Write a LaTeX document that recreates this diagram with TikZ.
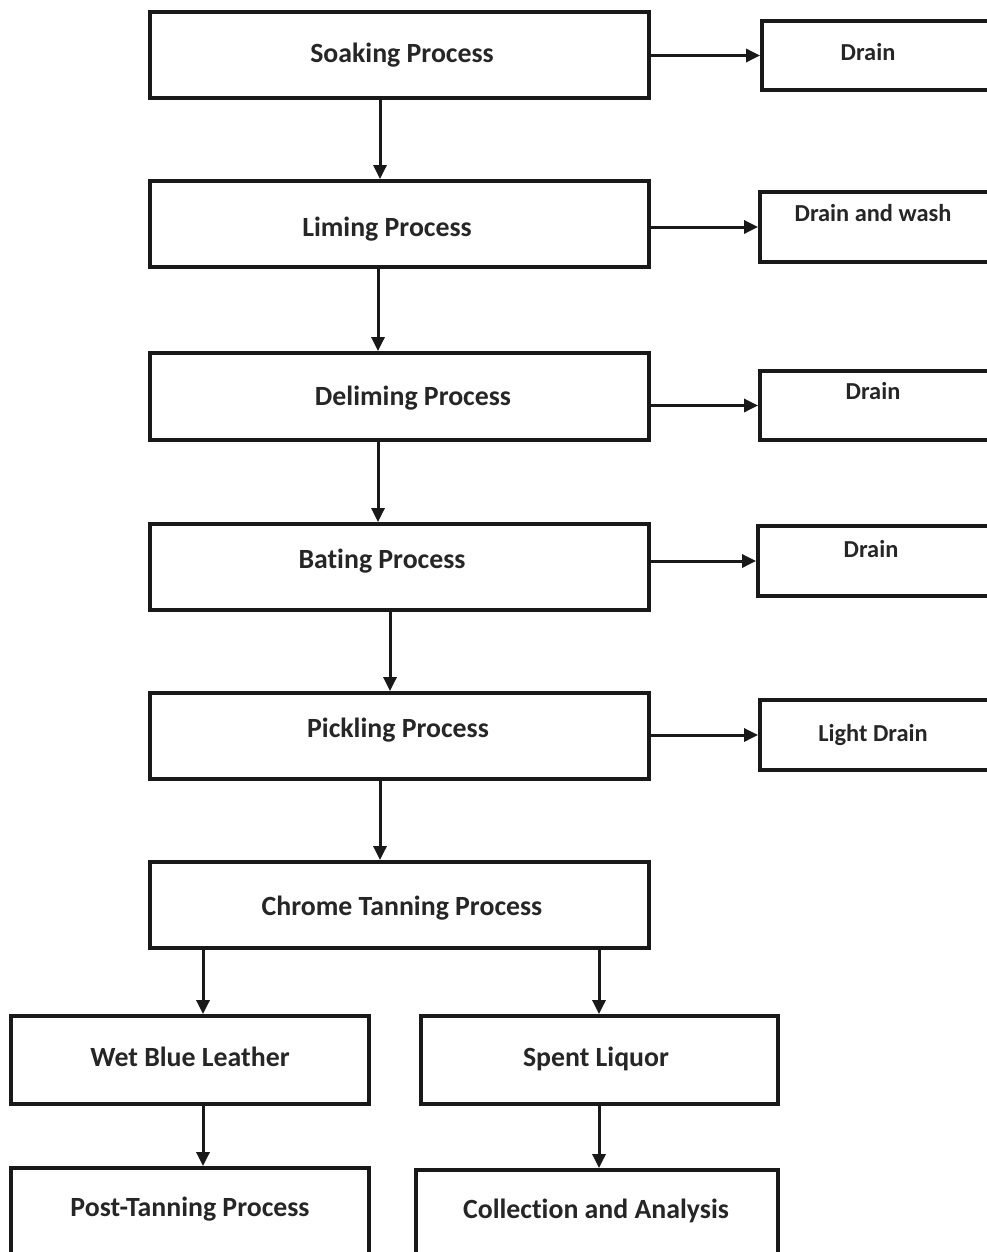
\documentclass[tikz,border=0pt]{standalone}
\usepackage{fontspec}
\setmainfont{Carlito}[Ligatures=NoCommon]
\usetikzlibrary{arrows.meta,calc}
\begin{document}
\begin{tikzpicture}[x=1pt,y=-1pt,
  box/.style={draw=black!90,line width=3.8pt,inner sep=0pt,fill=white},
  lbl/.style={font=\bfseries\fontsize{27.8}{32}\selectfont,text=black!85,inner sep=0pt,anchor=base,yshift=-10pt},
  slbl/.style={font=\bfseries\fontsize{24.4}{28}\selectfont,text=black!85,inner sep=0pt,anchor=base,yshift=-9pt},
  arr/.style={line width=3pt,draw=black!90,-{Triangle[length=14pt,width=13pt]}}]
\useasboundingbox (0,0) rectangle (987,1252);
\clip (0,0) rectangle (987,1252);
% main boxes
\node[box,minimum width=499pt,minimum height=86pt] (soak) at (399.5,55) {};
\node[box,minimum width=499pt,minimum height=86pt] (lim) at (399.5,224) {};
\node[box,minimum width=499pt,minimum height=87pt] (delim) at (399.5,396.5) {};
\node[box,minimum width=499pt,minimum height=86pt] (bate) at (399.5,567) {};
\node[box,minimum width=499pt,minimum height=86pt] (pick) at (399.5,736) {};
\node[box,minimum width=499pt,minimum height=86pt] (chrome) at (399.5,905) {};
% side boxes
\node[box,minimum width=240pt,minimum height=69pt] (d1) at (882,55.5) {};
\node[box,minimum width=240pt,minimum height=70pt] (d2) at (880,227) {};
\node[box,minimum width=240pt,minimum height=69pt] (d3) at (880,405.5) {};
\node[box,minimum width=240pt,minimum height=70pt] (d4) at (878,561) {};
\node[box,minimum width=240pt,minimum height=70pt] (d5) at (880,735) {};
% bottom boxes
\node[box,minimum width=358pt,minimum height=88pt] (wet) at (190,1060) {};
\node[box,minimum width=357pt,minimum height=88pt] (spent) at (599.5,1060) {};
\node[box,minimum width=358pt,minimum height=100pt] (post) at (190,1218) {};
\node[box,minimum width=362pt,minimum height=100pt] (coll) at (597,1220) {};
% labels
\node[lbl] (tsoak) at (402,53) {Soaking Process};
\node[lbl] (tlim) at (387,226) {Liming Process};
\node[lbl] (tdelim) at (413,395) {Deliming Process};
\node[lbl] (tbate) at (382,558) {Bating Process};
\node[lbl] (tpick) at (398,727) {Pickling Process};
\node[lbl] (tchrome) at (402,905) {Chrome Tanning Process};
\node[slbl] (td1) at (868,52) {Drain};
\node[slbl] (td2) at (873,213) {Drain and wash};
\node[slbl] (td3) at (873,390) {Drain};
\node[slbl] (td4) at (871,548) {Drain};
\node[slbl] (td5) at (873,732) {Light Drain};
\node[lbl] (twet) at (190,1056) {Wet Blue Leather};
\node[lbl] (tspent) at (596,1056) {Spent Liquor};
\node[lbl] (tpost) at (190,1206) {Post-Tanning Process};
\node[lbl] (tcoll) at (596,1208) {Collection and Analysis};
% right arrows
\draw[arr] (soak.east |- d1) -- (d1.west);
\draw[arr] (lim.east |- d2) -- (d2.west);
\draw[arr] (delim.east |- d3) -- (d3.west);
\draw[arr] (bate.east |- d4) -- (d4.west);
\draw[arr] (pick.east |- d5) -- (d5.west);
% down arrows
\draw[arr] (soak.south -| 380,0) -- (lim.north -| 380,0);
\draw[arr] (lim.south -| 378,0) -- (delim.north -| 378,0);
\draw[arr] (delim.south -| 378,0) -- (bate.north -| 378,0);
\draw[arr] (bate.south -| 390,0) -- (pick.north -| 390,0);
\draw[arr] (pick.south -| 380,0) -- (chrome.north -| 380,0);
\draw[arr] (chrome.south -| 203,0) -- (wet.north -| 203,0);
\draw[arr] (chrome.south -| 599,0) -- (spent.north -| 599,0);
\draw[arr] (wet.south -| 203,0) -- (post.north -| 203,0);
\draw[arr] (spent.south -| 599,0) -- (coll.north -| 599,0);
\end{tikzpicture}
\end{document}
